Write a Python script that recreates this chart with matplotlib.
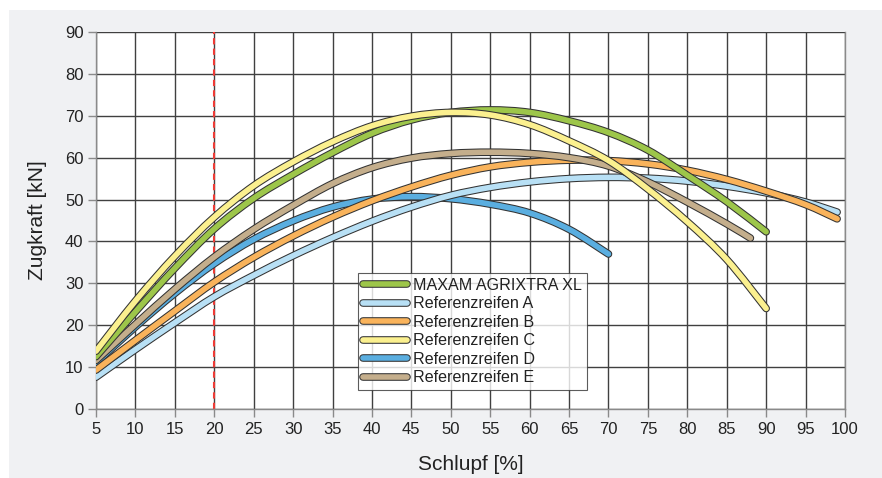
import matplotlib
matplotlib.use("Agg")
import matplotlib.pyplot as plt
import matplotlib.patheffects as pe
from matplotlib.patches import Rectangle, PathPatch
from matplotlib.path import Path
from matplotlib.lines import Line2D

plt.rcParams['font.family'] = ['Liberation Sans', 'DejaVu Sans']

# Slip [%] positions and traction force [kN]
x_maxam = [5, 10, 15, 20, 25, 30, 35, 40, 45, 50, 55, 60, 65, 70, 75, 80, 85, 90]
y_maxam = [12.5, 23.2, 33.6, 43.0, 50.3, 56.0, 61.2, 65.8, 69.0, 70.8, 71.4, 70.8, 68.8, 66.0, 61.8, 55.8, 49.5, 42.3]

x_a = [5, 10, 15, 20, 25, 30, 35, 40, 45, 50, 55, 60, 65, 70, 75, 80, 85, 90, 95, 99]
y_a = [7.6, 14.2, 20.6, 26.8, 31.9, 36.6, 40.9, 44.8, 48.2, 51.0, 52.9, 54.2, 55.0, 55.3, 55.1, 54.4, 53.2, 51.6, 49.4, 47.0]

x_b = [5, 10, 15, 20, 25, 30, 35, 40, 45, 50, 55, 60, 65, 70, 75, 80, 85, 90, 95, 99]
y_b = [9.3, 16.4, 23.4, 30.3, 36.2, 41.3, 45.8, 49.7, 53.0, 55.8, 57.8, 58.9, 59.4, 59.3, 58.5, 57.0, 54.8, 52.0, 48.8, 45.4]

x_c = [5, 10, 15, 20, 25, 30, 35, 40, 45, 50, 55, 60, 65, 70, 75, 80, 85, 90]
y_c = [13.8, 25.8, 36.5, 45.8, 53.3, 59.0, 63.8, 67.6, 69.9, 70.8, 70.2, 67.9, 64.0, 59.3, 52.5, 44.7, 35.7, 24.0]

x_d = [5, 10, 15, 20, 25, 30, 35, 40, 45, 50, 55, 60, 65, 70]
y_d = [11.0, 19.6, 27.6, 34.7, 40.5, 44.9, 48.2, 50.1, 50.7, 50.2, 48.9, 46.8, 42.9, 37.0]

x_e = [5, 10, 15, 20, 25, 30, 35, 40, 45, 50, 55, 60, 65, 70, 75, 80, 85, 88]
y_e = [11.6, 20.2, 28.6, 36.3, 42.9, 48.6, 53.8, 57.6, 59.9, 61.0, 61.3, 61.0, 60.0, 58.0, 54.2, 49.4, 44.2, 40.8]

labels = ["MAXAM AGRIXTRA XL", "Referenzreifen A", "Referenzreifen B",
          "Referenzreifen C", "Referenzreifen D", "Referenzreifen E"]
colors = ["#9dc64a", "#b8e0f5", "#f9b35b", "#fbf08f", "#5aaee0", "#c4ae8c"]

x_ticks = list(range(5, 101, 5))
y_ticks = list(range(0, 91, 10))
marker_x = 20


def smooth_path(xs, ys):
    """Catmull-Rom curve through the data points, as cubic Bezier segments."""
    pts = list(zip(xs, ys))
    n = len(pts)
    verts = [pts[0]]
    codes = [Path.MOVETO]
    for i in range(n - 1):
        p0 = pts[i - 1] if i > 0 else pts[i]
        p1 = pts[i]
        p2 = pts[i + 1]
        p3 = pts[i + 2] if i + 2 < n else pts[i + 1]
        c1 = (p1[0] + (p2[0] - p0[0]) / 6.0, p1[1] + (p2[1] - p0[1]) / 6.0)
        c2 = (p2[0] - (p3[0] - p1[0]) / 6.0, p2[1] - (p3[1] - p1[1]) / 6.0)
        verts += [c1, c2, p2]
        codes += [Path.CURVE4] * 3
    return Path(verts, codes)


fig = plt.figure(figsize=(8.82, 4.78), dpi=100)
fig.patch.set_facecolor("white")
fig.add_artist(Rectangle((9 / 882, 0), 1 - 9 / 882, 1 - 10 / 478,
                         transform=fig.transFigure, facecolor="#f0f1f3",
                         edgecolor="none", zorder=-10))

ax = fig.add_axes([96 / 882, 1 - 409 / 478, (845 - 96) / 882, (409 - 32) / 478])
ax.set_facecolor("white")
ax.set_xlim(5, 100)
ax.set_ylim(0, 90)
ax.set_xticks(x_ticks)
ax.set_yticks(y_ticks)
ax.grid(True, color="#404040", linewidth=1.0)
ax.set_axisbelow(True)
for s in ax.spines.values():
    s.set_color("#8a8a8a")
    s.set_linewidth(1.0)
ax.spines["top"].set_visible(False)
ax.tick_params(axis="both", colors="#8a8a8a", labelcolor="#222222",
               labelsize=12, length=6, width=1.0, pad=3)

ax.axvline(marker_x, color="#ee3b36", linestyle=(0, (3, 2)), linewidth=1.5, zorder=2)

LW = 4.0
effects = [pe.Stroke(linewidth=LW + 1.5, foreground="#333333"), pe.Normal()]

series = [(x_d, y_d, 4), (x_a, y_a, 1), (x_b, y_b, 2), (x_e, y_e, 5),
          (x_maxam, y_maxam, 0), (x_c, y_c, 3)]
for xs, ys, idx in series:
    patch = PathPatch(smooth_path(xs, ys), fill=False, edgecolor=colors[idx],
                      linewidth=LW, capstyle="round", joinstyle="round",
                      zorder=3, path_effects=effects)
    ax.add_patch(patch)

proxies = [Line2D([0], [0], color=colors[i], linewidth=LW, solid_capstyle="round",
                  path_effects=effects) for i in range(6)]
leg = ax.legend(proxies, labels,
                loc="lower left", bbox_to_anchor=(0.35, 0.05),
                borderaxespad=0, fontsize=11.6, frameon=True, fancybox=False,
                handlelength=2.75, handletextpad=0.35, labelspacing=0.22,
                borderpad=0.3)
leg.get_frame().set_edgecolor("#333333")
leg.get_frame().set_linewidth(0.8)
for t in leg.get_texts():
    t.set_color("#222222")

ax.set_xlabel("Schlupf [%]", fontsize=15, color="#222222", labelpad=13)
ax.set_ylabel("Zugkraft [kN]", fontsize=15, color="#222222", labelpad=13)

fig.savefig("out.png", dpi=100)
